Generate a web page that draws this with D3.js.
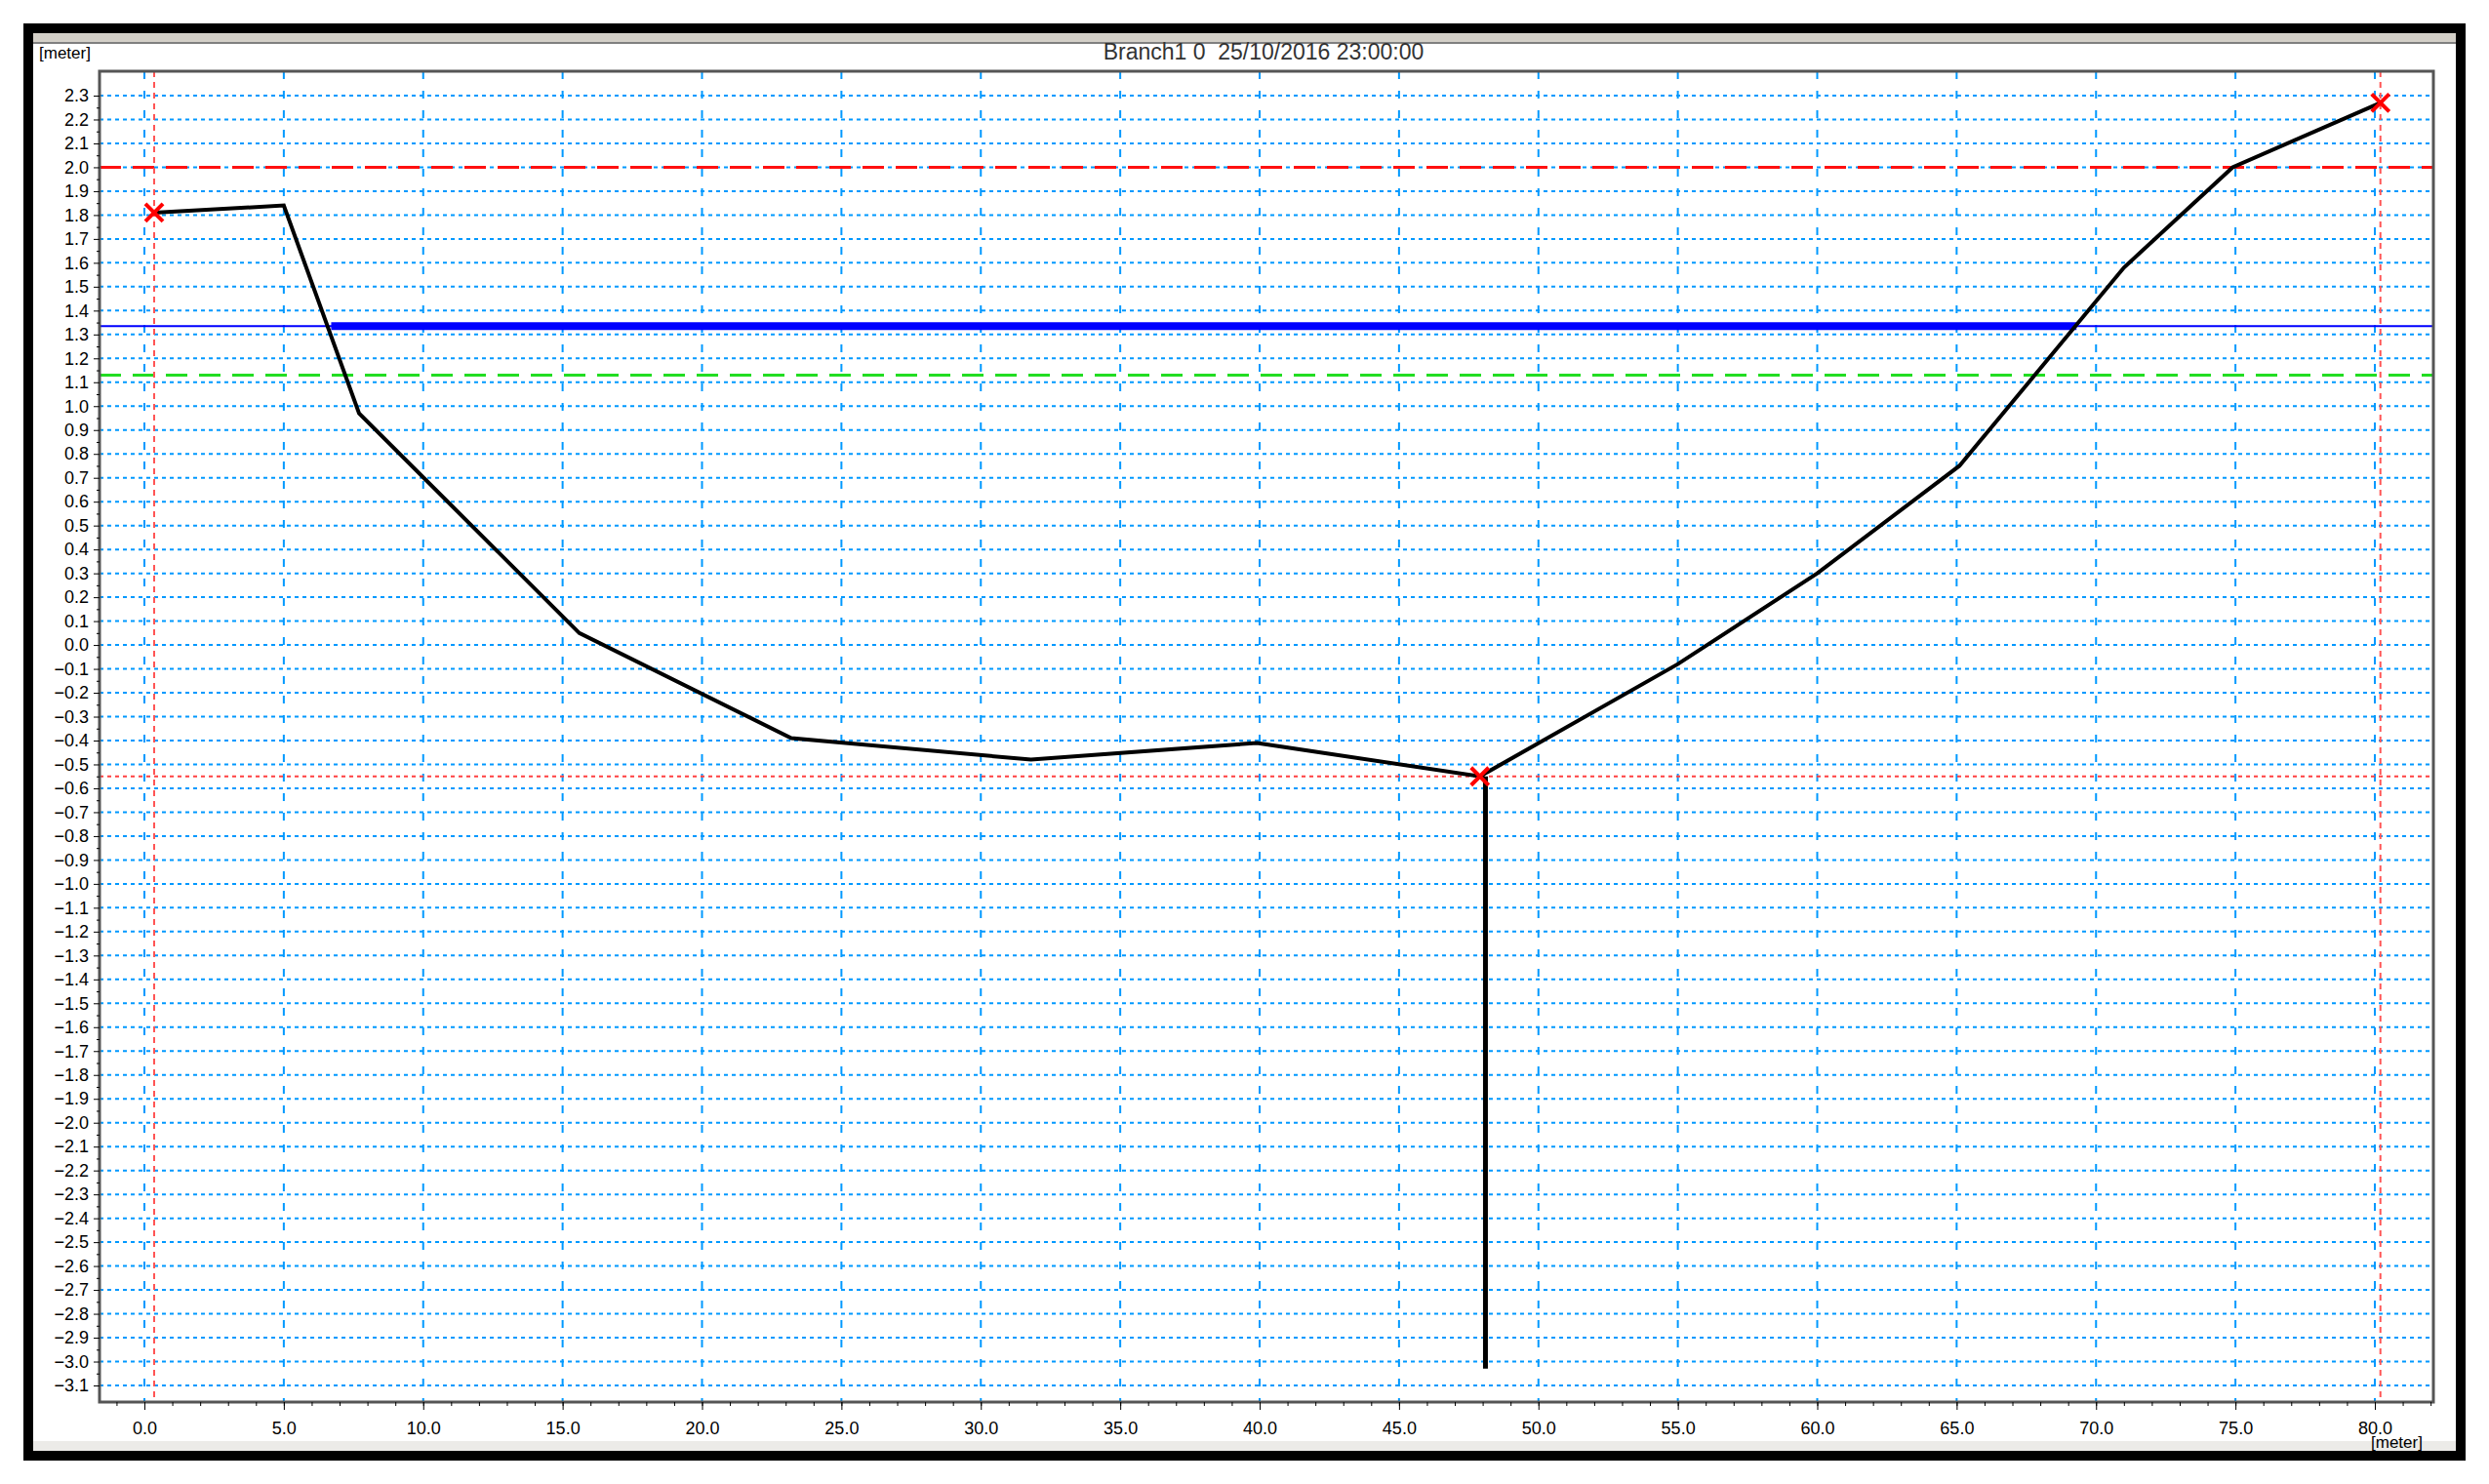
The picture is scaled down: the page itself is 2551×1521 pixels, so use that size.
<!DOCTYPE html>
<html><head><meta charset="utf-8">
<script src="https://cdn.jsdelivr.net/npm/d3@7"></script>
<style>body{margin:0;background:#fff}svg{display:block}text{font-family:"Liberation Sans",Arial,sans-serif;white-space:pre}</style>
</head><body><svg id="c" width="2551" height="1521"></svg>
<script>
// cross-section profile (distance, level)
const profileX = [0.35, 5.0, 7.7, 15.6, 23.2, 31.8, 39.9, 47.9, 55.0, 60.0, 65.1, 71.0, 74.9, 80.2];
const profileZ = [1.81, 1.84, 0.97, 0.05, -0.39, -0.48, -0.41, -0.55, -0.08, 0.30, 0.75, 1.58, 2.00, 2.27];
const stemX = [48.1, 48.1];
const stemZ = [-0.55, -3.03];
const markX = [0.35, 47.9, 80.2];
const markZ = [1.81, -0.55, 2.27];
const waterLevel = 1.335, wetFrom = 6.7, wetTo = 69.3;
const redLevel = 2.0, greenLevel = 1.13, bedLevel = -0.55;
const xTicks = d3.range(0, 81, 5);
const yTicks = d3.range(-31, 24).map(d => d / 10);

const svg = d3.select('#c');
const L = 102, R = 2494, T = 73, B = 1437;
const x = d3.scaleLinear().domain([0, 80]).range([148, 2434]);
const y = d3.scaleLinear().domain([-3.1, 2.3]).range([1420, 98]);

// window frame
svg.append('rect').attr('x', 29).attr('y', 29).attr('width', 2493).attr('height', 1463).attr('fill', '#fff').attr('stroke', '#000').attr('stroke-width', 10);
svg.append('rect').attr('x', 34).attr('y', 34).attr('width', 2483).attr('height', 10).attr('fill', '#d4d0c8');
svg.append('line').attr('x1', 34).attr('x2', 2517).attr('y1', 44).attr('y2', 44).attr('stroke', '#808080').attr('stroke-width', 2);
svg.append('rect').attr('x', 34).attr('y', 1477).attr('width', 2483).attr('height', 10).attr('fill', '#ecebe8');

const g = svg.append('g');
// grid
g.selectAll('.gy').data(yTicks).join('line')
  .attr('x1', L).attr('x2', R).attr('y1', d => y(d)).attr('y2', d => y(d))
  .attr('stroke', '#0099ff').attr('stroke-width', 2).attr('stroke-dasharray', '4,4');
g.selectAll('.gx').data(xTicks).join('line')
  .attr('x1', d => x(d)).attr('x2', d => x(d)).attr('y1', T).attr('y2', B)
  .attr('stroke', '#0099ff').attr('stroke-width', 2).attr('stroke-dasharray', '8,12');

// reference lines
g.append('line').attr('x1', L).attr('x2', R).attr('y1', y(redLevel)).attr('y2', y(redLevel)).attr('stroke', '#ff1010').attr('stroke-width', 3).attr('stroke-dasharray', '22,12');
g.append('line').attr('x1', L).attr('x2', R).attr('y1', y(greenLevel)).attr('y2', y(greenLevel)).attr('stroke', '#22dd22').attr('stroke-width', 3).attr('stroke-dasharray', '22,12');
g.append('line').attr('x1', L).attr('x2', R).attr('y1', y(bedLevel)).attr('y2', y(bedLevel)).attr('stroke', '#ff4040').attr('stroke-width', 2).attr('stroke-dasharray', '4,4');
[markX[0], markX[2]].forEach(v => g.append('line').attr('x1', x(v)).attr('x2', x(v)).attr('y1', T).attr('y2', B).attr('stroke', '#ff5555').attr('stroke-width', 2).attr('stroke-dasharray', '6,5'));

// water level
g.append('line').attr('x1', L).attr('x2', R).attr('y1', y(waterLevel)).attr('y2', y(waterLevel)).attr('stroke', '#0000ff').attr('stroke-width', 2);
g.append('line').attr('x1', x(wetFrom)).attr('x2', x(wetTo)).attr('y1', y(waterLevel)).attr('y2', y(waterLevel)).attr('stroke', '#0000ff').attr('stroke-width', 8);

// profile
const line = d3.line().x(d => x(d[0])).y(d => y(d[1]));
g.append('path').attr('d', line(d3.zip(profileX, profileZ))).attr('fill', 'none').attr('stroke', '#000').attr('stroke-width', 4);
g.append('path').attr('d', line(d3.zip(stemX, stemZ))).attr('fill', 'none').attr('stroke', '#000').attr('stroke-width', 5);

// markers
const s = 9;
d3.zip(markX, markZ).forEach(([a, b]) => {
  g.append('path').attr('d', `M${x(a)-s},${y(b)-s}L${x(a)+s},${y(b)+s}M${x(a)+s},${y(b)-s}L${x(a)-s},${y(b)+s}`).attr('stroke', '#ff0000').attr('stroke-width', 4);
});

// plot border
svg.append('rect').attr('x', L).attr('y', T).attr('width', R - L).attr('height', B - T).attr('fill', 'none').attr('stroke', '#555').attr('stroke-width', 3);

// axes
const yAxis = d3.axisLeft(y).tickValues(yTicks).tickFormat(d3.format('.1f')).tickSize(6);
const ya = svg.append('g').attr('transform', `translate(${L},0)`).call(yAxis);
ya.select('.domain').remove();
ya.selectAll('text').attr('font-size', 18).attr('dx', -2);
svg.append('g').attr('transform', `translate(${L},0)`).call(d3.axisLeft(y).tickValues(d3.range(-30.5, 23, 1).map(d => d / 10)).tickFormat('').tickSize(3)).select('.domain').remove();

const xa = svg.append('g').attr('transform', `translate(0,${B})`).call(d3.axisBottom(x).tickValues(xTicks).tickFormat(d3.format('.1f')).tickSize(8));
xa.select('.domain').remove();
xa.selectAll('text').attr('font-size', 18).attr('dy', '1.2em');
svg.append('g').attr('transform', `translate(0,${B})`).call(d3.axisBottom(x).tickValues(d3.range(-2, 83, 1).filter(d => x(d) > L && x(d) < R)).tickFormat('').tickSize(4)).select('.domain').remove();

svg.append('text').attr('x', 40).attr('y', 60).attr('font-size', 17).text('[meter]');
svg.append('text').attr('x', 2430).attr('y', 1484).attr('font-size', 17).text('[meter]');
svg.append('text').attr('x', 1295).attr('y', 61).attr('text-anchor', 'middle').attr('font-size', 23).attr('fill', '#333').text('Branch1 0  25/10/2016 23:00:00');
</script></body></html>
